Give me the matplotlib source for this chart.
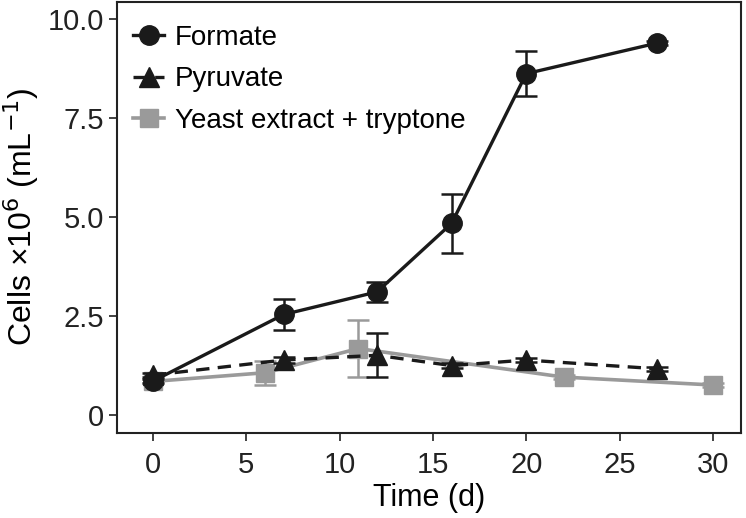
import matplotlib
matplotlib.use("Agg")
import matplotlib.pyplot as plt
from matplotlib.lines import Line2D

plt.rcParams['font.family'] = ['Liberation Sans', 'DejaVu Sans']

# data
formate_day = [0, 7, 12, 16, 20, 27]
formate_val = [0.87, 2.55, 3.12, 4.85, 8.63, 9.40]
formate_err = [0.05, 0.38, 0.25, 0.75, 0.57, 0.05]

pyruvate_day = [0, 7, 12, 16, 20, 27]
pyruvate_val = [1.02, 1.40, 1.52, 1.26, 1.40, 1.18]
pyruvate_err = [0.05, 0.08, 0.56, 0.06, 0.06, 0.05]

yeast_day = [0, 6, 11, 22, 30]
yeast_val = [0.86, 1.08, 1.69, 0.97, 0.77]
yeast_err = [0.05, 0.30, 0.72, 0.05, 0.05]

labels = ['Formate', 'Pyruvate', 'Yeast extract + tryptone']
xticks = [0, 5, 10, 15, 20, 25, 30]
yticks = [0, 2.5, 5.0, 7.5, 10.0]
ytick_labels = ['0', '2.5', '5.0', '7.5', '10.0']

gray = '#9a9a9a'
black = '#1a1a1a'
dash = (0, (4, 2.5))

fig = plt.figure(figsize=(7.46, 5.18), dpi=100)
ax = fig.add_axes([0.157, 0.165, 0.836, 0.832])

ax.errorbar(yeast_day, yeast_val, yerr=yeast_err, color=gray, marker='s', ms=13,
            lw=2.6, capsize=8, elinewidth=1.8, capthick=1.8, zorder=2)
ax.errorbar(pyruvate_day, pyruvate_val, yerr=pyruvate_err, color=black, marker='^', ms=15,
            lw=2.4, ls=dash, capsize=8, elinewidth=1.8, capthick=1.8, zorder=3)
ax.errorbar(formate_day, formate_val, yerr=formate_err, color=black, marker='o', ms=14,
            lw=2.4, capsize=8, elinewidth=1.8, capthick=1.8, zorder=4)

ax.set_xlim(-1.93, 31.5)
ax.set_ylim(-0.43, 10.45)
ax.set_xticks(xticks)
ax.set_yticks(yticks)
ax.set_yticklabels(ytick_labels)
ax.tick_params(labelsize=21, length=6, width=1.3, color='#333333', labelcolor='#222222')
ax.tick_params(axis='x', pad=7)
for s in ax.spines.values():
    s.set_linewidth(1.5)
    s.set_color('#222222')

ax.set_xlabel('Time (d)', fontsize=22, labelpad=3)
ax.set_ylabel('Cells ×10$^{6}$ (mL$^{-1}$)', fontsize=23, labelpad=5)

# legend without error bars
handles = [
    Line2D([], [], color=black, marker='o', ms=14, lw=2.4),
    Line2D([], [], color=black, marker='^', ms=15, lw=2.4, ls=dash),
    Line2D([], [], color=gray, marker='s', ms=13, lw=2.6),
]
ax.legend(handles, labels, loc='upper left', frameon=False, fontsize=20,
          handlelength=1.1, handletextpad=0.4, labelspacing=0.55,
          borderaxespad=0.0, bbox_to_anchor=(0.008, 0.971))

fig.savefig('out.png', dpi=100)
